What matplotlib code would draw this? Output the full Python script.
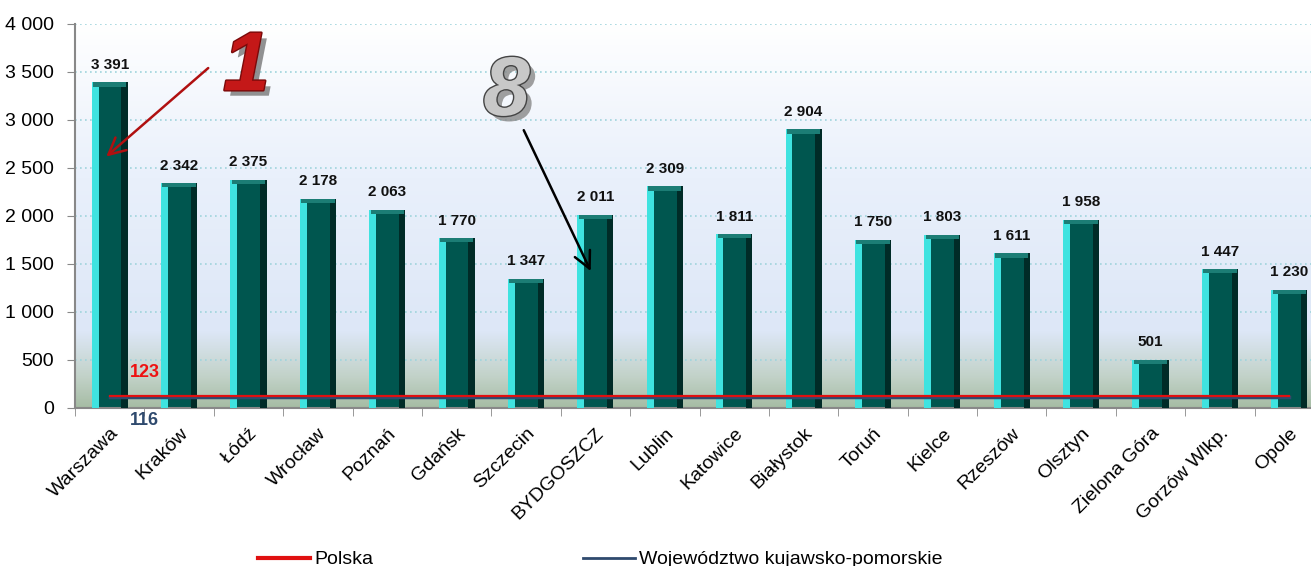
import numpy as np
import matplotlib.pyplot as plt
import matplotlib.patheffects as pe
from matplotlib.colors import LinearSegmentedColormap
from matplotlib.lines import Line2D

plt.rcParams['font.family'] = ['Liberation Sans', 'DejaVu Sans']

cities = ['Warszawa', 'Kraków', 'Łódź', 'Wrocław', 'Poznań', 'Gdańsk', 'Szczecin',
          'BYDGOSZCZ', 'Lublin', 'Katowice', 'Białystok', 'Toruń', 'Kielce', 'Rzeszów',
          'Olsztyn', 'Zielona Góra', 'Gorzów Wlkp.', 'Opole']
values = [3391, 2342, 2375, 2178, 2063, 1770, 1347, 2011, 2309, 1811, 2904, 1750,
          1803, 1611, 1958, 501, 1447, 1230]
polska = 123
kujawsko = 116


def fmt(v):
    return f'{v:,}'.replace(',', ' ')


fig = plt.figure(figsize=(13.11, 5.66), dpi=100)
ax = fig.add_axes([75 / 1311, 158 / 566, 1249 / 1311, 384 / 566])

x = np.arange(len(cities))
ax.set_xlim(-0.5, len(cities) - 0.5)
ax.set_ylim(0, 4000)

# background gradient: white top -> light blue -> greenish grey at bottom
cmap = LinearSegmentedColormap.from_list('bg', [(0, '#a6bca4'), (0.08, '#c2d2c8'), (0.2, '#dde7f7'),
                                                (0.6, '#e9f0fb'), (1, '#ffffff')])
grad = np.linspace(0, 1, 256).reshape(-1, 1)
ax.imshow(grad, aspect='auto', cmap=cmap, origin='lower',
          extent=(-0.5, len(cities) - 0.5, 0, 4000), zorder=0)

for yv in range(500, 4001, 500):
    ax.axhline(yv, color='#9fd4dc', lw=1.2, ls=(0, (1, 2)), zorder=1)

# bars with a simple bevel look
w = 0.52
ax.bar(x, values, width=w, color='#00564f', zorder=2)
ax.bar(x - w / 2 + 0.05, values, width=0.10, color='#3fe3e0', zorder=3)
ax.bar(x + w / 2 - 0.045, values, width=0.09, color='#002b27', zorder=3)
ax.bar(x, [45] * len(values), bottom=[v - 45 for v in values], width=w - 0.04,
       color='#1c7d75', zorder=3)

for xi, v in zip(x, values):
    ax.text(xi, v + 110, fmt(v), ha='center', va='bottom', fontsize=11,
            fontweight='bold', color='#111111', zorder=5)

ax.plot([x[0], x[-1]], [kujawsko, kujawsko], color='#2f4a6e', lw=2.5, zorder=4)
ax.plot([x[0], x[-1]], [polska, polska], color='#e01010', lw=1.6, zorder=4)
ax.text(0.5, 280, str(polska), color='#ee1111', fontsize=13, fontweight='bold',
        ha='center', va='bottom', zorder=5)
ax.text(0.5, -40, str(kujawsko), color='#2f4a6e', fontsize=13, fontweight='bold',
        ha='center', va='top', zorder=5)

# annotations
ax.text(1.97, 3540, '1', color='#c41818', fontsize=60, fontstyle='italic', fontweight='bold',
        ha='center', va='center', zorder=6,
        path_effects=[pe.withSimplePatchShadow(offset=(4, -4), shadow_rgbFace='#777777', alpha=0.8),
                      pe.withStroke(linewidth=2, foreground='#7a0a0a')])
ax.annotate('', xy=(-0.08, 2600), xytext=(1.45, 3560),
            arrowprops=dict(arrowstyle='->', color='#b01010', lw=1.8, mutation_scale=30), zorder=6)
ax.text(5.72, 3280, '8', color='#c8c8c8', fontsize=60, fontstyle='italic', fontweight='bold',
        ha='center', va='center', zorder=6,
        path_effects=[pe.withSimplePatchShadow(offset=(4, -4), shadow_rgbFace='#888888', alpha=0.8),
                      pe.withStroke(linewidth=2, foreground='#444444')])
ax.annotate('', xy=(6.95, 1400), xytext=(5.95, 2920),
            arrowprops=dict(arrowstyle='->', color='black', lw=1.8, mutation_scale=30), zorder=6)

ax.set_yticks(range(0, 4001, 500))
ax.set_yticklabels([fmt(v) for v in range(0, 4001, 500)], fontsize=14)
ax.set_xticks(x)
ax.set_xticklabels(cities, rotation=45, ha='right', rotation_mode='anchor', fontsize=14)
ax.set_xticks(np.arange(-0.5, len(cities), 1), minor=True)
ax.tick_params(axis='x', which='major', length=0, pad=12)
ax.tick_params(axis='x', which='minor', length=6, color='#888888', direction='out')
ax.tick_params(axis='y', length=6, color='#888888', direction='out', pad=9)
for s in ['top', 'right']:
    ax.spines[s].set_visible(False)
for s in ['left', 'bottom']:
    ax.spines[s].set_color('#888888')
    ax.spines[s].set_linewidth(1.5)

handles = [Line2D([], [], color='#e01010', lw=3), Line2D([], [], color='#2f4a6e', lw=2)]
fig.legend(handles, ['Polska', 'Województwo kujawsko-pomorskie'], loc='lower left',
           bbox_to_anchor=(240 / 1311, -0.035), ncol=2, frameon=False, fontsize=14,
           handlelength=2.7, handletextpad=0.2, columnspacing=10.8)

fig.savefig('out.png', dpi=100)
